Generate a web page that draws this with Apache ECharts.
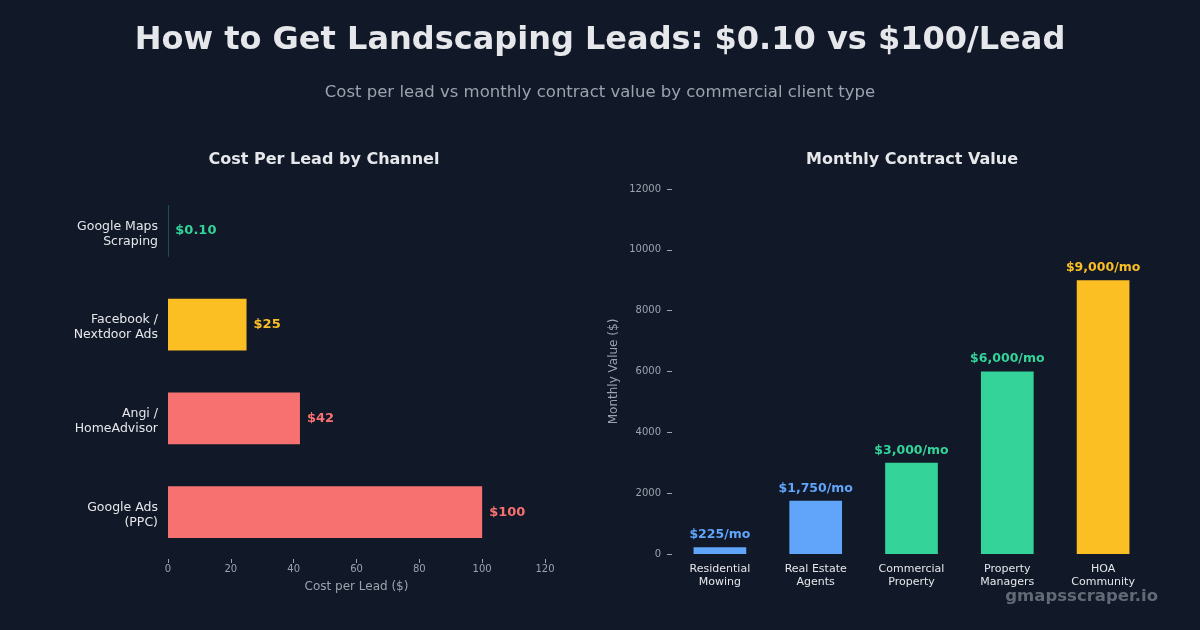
<!DOCTYPE html>
<html>
<head>
<meta charset="utf-8">
<script src="https://cdn.jsdelivr.net/npm/echarts@6/dist/echarts.min.js"></script>
<style>
  html, body { margin: 0; padding: 0; background: #111827; }
  #main { width: 1200px; height: 630px; }
</style>
</head>
<body>
<div id="main"></div>
<script>
// left panel data (top to bottom)
var channels = ['Google Maps\nScraping', 'Facebook /\nNextdoor Ads', 'Angi /\nHomeAdvisor', 'Google Ads\n(PPC)'];
var costPerLead = [0.1, 25, 42, 100];
var costLabels = ['$0.10', '$25', '$42', '$100'];
var costColors = ['#34d399', '#fbbf24', '#f87171', '#f87171'];

// right panel data
var clientTypes = ['Residential\nMowing', 'Real Estate\nAgents', 'Commercial\nProperty', 'Property\nManagers', 'HOA\nCommunity'];
var monthlyValue = [225, 1750, 3000, 6000, 9000];
var valueLabels = ['$225/mo', '$1,750/mo', '$3,000/mo', '$6,000/mo', '$9,000/mo'];
var valueColors = ['#60a5fa', '#60a5fa', '#34d399', '#34d399', '#fbbf24'];

var FONT = 'DejaVu Sans';
var textColor = '#e5e7eb';
var mutedColor = '#9ca3af';

function barData(values, colors, labels) {
    return values.map(function (v, i) {
        return {
            value: v,
            itemStyle: { color: colors[i] },
            label: { formatter: labels[i], color: colors[i] }
        };
    });
}

var myChart = echarts.init(document.getElementById('main'), null, { renderer: 'canvas' });

var option = {
    backgroundColor: '#111827',
    animation: false,
    textStyle: { fontFamily: FONT },
    title: [
        {
            text: 'How to Get Landscaping Leads: $0.10 vs $100/Lead',
            left: 'center',
            top: 20,
            textStyle: { color: textColor, fontSize: 32, fontWeight: 'bold', fontFamily: FONT }
        },
        {
            text: 'Cost per lead vs monthly contract value by commercial client type',
            left: 'center',
            top: 79,
            textStyle: { color: mutedColor, fontSize: 16.5, fontWeight: 'normal', fontFamily: FONT }
        },
        {
            text: 'Cost Per Lead by Channel',
            left: 319,
            top: 147,
            textAlign: 'center',
            textStyle: { color: textColor, fontSize: 16, fontWeight: 'bold', fontFamily: FONT }
        },
        {
            text: 'Monthly Contract Value',
            left: 907,
            top: 147,
            textAlign: 'center',
            textStyle: { color: textColor, fontSize: 16, fontWeight: 'bold', fontFamily: FONT }
        },
        {
            text: 'gmapsscraper.io',
            right: 37,
            top: 583,
            textStyle: { color: 'rgba(107,114,128,0.9)', fontSize: 16.5, fontWeight: 'bold', fontFamily: FONT }
        }
    ],
    grid: [
        { left: 168, top: 184, width: 377, height: 375 },
        { left: 672, top: 189, width: 479, height: 365 }
    ],
    xAxis: [
        {
            gridIndex: 0,
            type: 'value',
            min: 0,
            max: 120,
            interval: 20,
            name: 'Cost per Lead ($)',
            nameLocation: 'middle',
            nameGap: 22,
            nameTextStyle: { color: mutedColor, fontSize: 12, fontFamily: FONT },
            axisLine: { show: false },
            axisTick: { show: true, length: 4, lineStyle: { color: mutedColor } },
            axisLabel: { color: mutedColor, fontSize: 10, margin: 5, fontFamily: FONT },
            splitLine: { show: false }
        },
        {
            gridIndex: 1,
            type: 'category',
            data: clientTypes,
            axisLine: { show: false },
            axisTick: { show: false },
            axisLabel: { color: textColor, fontSize: 11, margin: 9, lineHeight: 13, fontFamily: FONT }
        }
    ],
    yAxis: [
        {
            gridIndex: 0,
            type: 'category',
            data: channels,
            inverse: true,
            axisLine: { show: false },
            axisTick: { show: false },
            axisLabel: {
                margin: 10,
                align: 'right',
                // small spacer line on top pushes the two text lines down a bit
                formatter: function (v) {
                    return '{s| }\n' + v.split('\n').map(function (s) { return '{a|' + s + '}'; }).join('\n');
                },
                rich: {
                    s: { lineHeight: 6, fontSize: 6 },
                    a: { color: textColor, fontSize: 12.5, lineHeight: 15, fontFamily: FONT, align: 'right' }
                }
            }
        },
        {
            gridIndex: 1,
            type: 'value',
            min: 0,
            max: 12000,
            interval: 2000,
            name: 'Monthly Value ($)',
            nameLocation: 'middle',
            nameGap: 52,
            nameTextStyle: { color: mutedColor, fontSize: 12, fontFamily: FONT },
            axisLine: { show: false },
            axisTick: { show: true, length: 5, lineStyle: { color: mutedColor } },
            axisLabel: {
                color: mutedColor,
                fontSize: 10,
                margin: 11,
                fontFamily: FONT,
                formatter: function (v) { return String(v); }
            },
            splitLine: { show: false }
        }
    ],
    series: [
        {
            name: 'Cost per Lead',
            type: 'bar',
            xAxisIndex: 0,
            yAxisIndex: 0,
            barWidth: '55%',
            data: barData(costPerLead, costColors, costLabels),
            label: {
                show: true,
                position: 'right',
                distance: 7,
                fontSize: 13,
                fontWeight: 'bold',
                fontFamily: FONT
            }
        },
        {
            name: 'Monthly Value',
            type: 'bar',
            xAxisIndex: 1,
            yAxisIndex: 1,
            barWidth: '55%',
            data: barData(monthlyValue, valueColors, valueLabels),
            label: {
                show: true,
                position: 'top',
                distance: 6,
                fontSize: 12.5,
                fontWeight: 'bold',
                fontFamily: FONT
            }
        }
    ]
};

myChart.setOption(option);
window.addEventListener('resize', function () {
    myChart.resize();
});
</script>
</body>
</html>
